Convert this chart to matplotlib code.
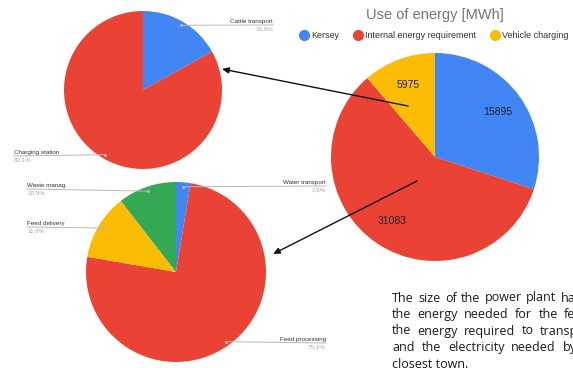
import numpy as np
import matplotlib
matplotlib.use('Agg')
import matplotlib.pyplot as plt
from matplotlib.lines import Line2D
from matplotlib.patches import FancyArrowPatch

plt.rcParams['font.family'] = ['Liberation Sans', 'DejaVu Sans']

# Use of energy [MWh]
energy_labels = ['Kersey', 'Internal energy requirement', 'Vehicle charging']
energy_values = [15895, 31083, 5975]

# Vehicle charging split [%]
charging_labels = ['Cattle transport', 'Charging station']
charging_shares = [16.9, 83.1]

# Internal energy requirement split [%]
internal_labels = ['Water transport', 'Feed processing', 'Feed delivery', 'Waste manag.']
internal_shares = [2.6, 75.1, 11.8, 10.5]

note_lines = [
    'The size of the power plant has been',
    'the energy needed for the feed',
    'the energy required to transport',
    'and the electricity needed by the',
    'closest town.',
]
# justified lines: (index of a word, x where it starts)
note_stretch = [(6, 561), (5, 564), (4, 540), (4, 563), None]

BLUE, RED, YELLOW, GREEN = '#4285F4', '#EA4335', '#FBBC04', '#34A853'

W, H = 573, 368
fig = plt.figure(figsize=(W / 100, H / 100), dpi=100)
renderer = fig.canvas.get_renderer()


def fxy(x, y):
    # pixels from the top-left corner -> figure fraction
    return x / W, 1 - y / H


def pie_axes(cx, cy, r):
    return fig.add_axes([(cx - r) / W, 1 - (cy + r) / H, 2 * r / W, 2 * r / H])


def finish(ax):
    ax.set_aspect('equal')
    ax.set_xlim(-1, 1)
    ax.set_ylim(-1, 1)
    ax.axis('off')


def side_labels(ax, wedges, labels, shares, spots):
    to_fig = ax.transData + fig.transFigure.inverted()
    for w, lab, share, (lx, ly, side) in zip(wedges, labels, shares, spots):
        mid = np.deg2rad((w.theta1 + w.theta2) / 2)
        px, py = to_fig.transform((0.95 * np.cos(mid), 0.95 * np.sin(mid)))
        ex, ey = fxy(lx, ly)
        fig.add_artist(Line2D([px, ex], [py, ey], color='#b8b8b8', lw=0.7,
                              transform=fig.transFigure))
        fig.add_artist(Line2D([px], [py], marker='o', ms=1.2, color='#b8b8b8',
                              transform=fig.transFigure))
        ha = 'right' if side == 'right' else 'left'
        fig.text(ex, ey + 1.2 / H, lab, ha=ha, va='bottom', fontsize=4.5, color='#333333')
        pct = f'{share:.1f}'.replace('.', ',') + '%'
        fig.text(ex, ey - 1.2 / H, pct, ha=ha, va='top', fontsize=4.5, color='#aaaaaa')


# main pie
ax_main = pie_axes(435, 157, 104)
total = sum(energy_values)
ax_main.pie(energy_values, colors=[BLUE, RED, YELLOW], startangle=90, counterclock=False,
            radius=1, wedgeprops=dict(linewidth=0), pctdistance=0.74,
            autopct=lambda p: f'{p * total / 100:.0f}',
            textprops=dict(fontsize=7.5, color='#222222'))
finish(ax_main)

fig.text(*fxy(435, 15), 'Use of energy [MWh]', ha='center', va='center',
         fontsize=10.5, color='#757575')

handles = [Line2D([], [], marker='o', ls='', color=c, markersize=7)
           for c in [BLUE, RED, YELLOW]]
fig.legend(handles, energy_labels, loc='center', bbox_to_anchor=fxy(434, 36), ncol=3,
           frameon=False, fontsize=6.5, handlelength=1.0, handletextpad=0.3,
           columnspacing=1.6, borderpad=0, labelcolor='#333333')

# vehicle charging pie
ax_ch = pie_axes(143, 90, 79)
ch_wedges, _ = ax_ch.pie(charging_shares, colors=[BLUE, RED], startangle=90,
                         counterclock=False, radius=1, wedgeprops=dict(linewidth=0))
finish(ax_ch)
side_labels(ax_ch, ch_wedges, charging_labels, charging_shares,
            [(273, 25, 'right'), (14, 156, 'left')])

# internal requirement pie
ax_in = pie_axes(176, 272, 90)
in_wedges, _ = ax_in.pie(internal_shares, colors=[BLUE, RED, YELLOW, GREEN], startangle=90,
                         counterclock=False, radius=1, wedgeprops=dict(linewidth=0))
finish(ax_in)
side_labels(ax_in, in_wedges, internal_labels, internal_shares,
            [(326, 186, 'right'), (326, 343, 'right'), (27, 227, 'left'), (27, 189, 'left')])

# arrows from the main pie to the detail pies
for tail, head in [((408, 106), (222, 69)), ((417, 181), (273, 254))]:
    fig.add_artist(FancyArrowPatch(fxy(*tail), fxy(*head), transform=fig.transFigure,
                                   arrowstyle='-|>,head_length=4,head_width=1.8',
                                   color='#111111', lw=1.0, shrinkA=0, shrinkB=0))

# note text, word by word so the lines can be justified
note_style = dict(fontsize=9.0, family=['Open Sans', 'DejaVu Sans'], color='#1a1a1a',
                  ha='left', va='center')
for i, (line, stretch) in enumerate(zip(note_lines, note_stretch)):
    y = 298 + i * 16.5
    if stretch is None:
        fig.text(*fxy(392, y), line, **note_style)
        continue
    words = line.split()
    widths = []
    for w in words:
        t = fig.text(0, 0, w, **note_style)
        widths.append(t.get_window_extent(renderer).width)
        t.remove()
    k, kx = stretch
    gap = (kx - 392 - sum(widths[:k])) / k
    x = 392
    for w, wd in zip(words, widths):
        fig.text(*fxy(x, y), w, **note_style)
        x += wd + gap

fig.savefig('out.png', dpi=100)
